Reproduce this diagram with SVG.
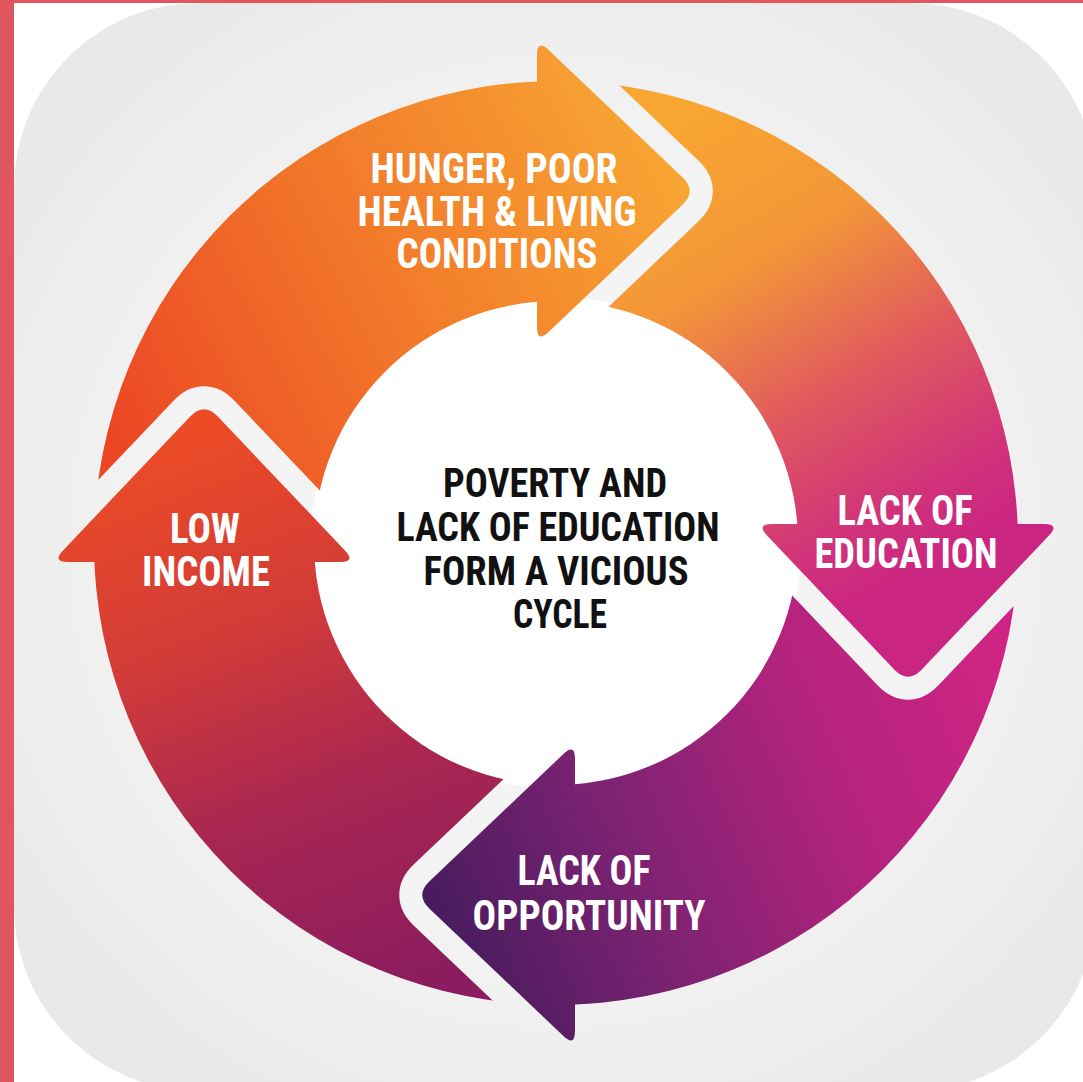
<svg xmlns="http://www.w3.org/2000/svg" xmlns:xlink="http://www.w3.org/1999/xlink" width="1083" height="1082" viewBox="0 0 1083 1082">
<style>
.lbl{font-family:"Roboto Condensed","Liberation Sans Narrow","Roboto","Liberation Sans",sans-serif;font-weight:bold;text-anchor:middle;fill:#ffffff;font-size:42px}
.ctr{font-family:"Roboto Condensed","Liberation Sans Narrow","Roboto","Liberation Sans",sans-serif;font-weight:bold;text-anchor:middle;fill:#111111;font-size:41px}
.ring{fill-rule:evenodd}
.cut{fill:#000;stroke:#000;stroke-width:46;stroke-linejoin:round}
</style>
<defs>
<radialGradient id="bg" cx="556" cy="543" r="640" gradientUnits="userSpaceOnUse">
<stop offset="0.6" stop-color="#f4f4f4"/>
<stop offset="1" stop-color="#e9e9e9"/>
</radialGradient>
<linearGradient id="gTop" gradientUnits="userSpaceOnUse" x1="120" y1="470" x2="700" y2="170">
<stop offset="0" stop-color="#eb4524"/>
<stop offset="0.5" stop-color="#f27a2a"/>
<stop offset="1" stop-color="#f8a834"/>
</linearGradient>
<linearGradient id="gRight" gradientUnits="userSpaceOnUse" x1="690" y1="120" x2="950" y2="560">
<stop offset="0" stop-color="#f8a532"/>
<stop offset="0.3" stop-color="#f39638"/>
<stop offset="0.6" stop-color="#e0585f"/>
<stop offset="0.85" stop-color="#d0337a"/>
<stop offset="1" stop-color="#cb2582"/>
</linearGradient>
<linearGradient id="gBottom" gradientUnits="userSpaceOnUse" x1="1000" y1="650" x2="420" y2="900">
<stop offset="0" stop-color="#d02484"/>
<stop offset="0.35" stop-color="#b0237c"/>
<stop offset="0.7" stop-color="#782270"/>
<stop offset="1" stop-color="#461b5d"/>
</linearGradient>
<linearGradient id="gLeft" gradientUnits="userSpaceOnUse" x1="420" y1="990" x2="200" y2="410">
<stop offset="0" stop-color="#8a1c5f"/>
<stop offset="0.35" stop-color="#a92651"/>
<stop offset="0.65" stop-color="#d23c38"/>
<stop offset="1" stop-color="#ee4c24"/>
</linearGradient>
<path id="annulus" d="M94 543A462 462 0 1 0 1018 543A462 462 0 1 0 94 543ZM314 543A242 242 0 1 0 798 543A242 242 0 1 0 314 543Z"/>
<path id="hTop" d="M548.6 50.02L682.5 177.22Q697 191 682.5 204.78L548.6 331.98Q537 343 537 327L537 55Q537 39 548.6 50.02Z"/>
<path id="hRight" d="M1048.98 535.6L921.78 669.5Q908 684 894.22 669.5L767.02 535.6Q756 524 772 524L1044 524Q1060 524 1048.98 535.6Z"/>
<path id="hBottom" d="M563.4 1035.98L429.5 908.78Q415 895 429.5 881.22L563.4 754.02Q575 743 575 759L575 1031Q575 1047 563.4 1035.98Z"/>
<path id="hLeft" d="M63.02 550.4L190.22 416.5Q204 402 217.78 416.5L344.98 550.4Q356 562 340 562L68 562Q52 562 63.02 550.4Z"/>
<clipPath id="cTop"><rect x="0" y="0" width="537" height="562"/></clipPath>
<clipPath id="cRight"><rect x="537" y="0" width="546" height="524"/></clipPath>
<clipPath id="cBottom"><rect x="575" y="524" width="508" height="558"/></clipPath>
<clipPath id="cLeft"><rect x="0" y="562" width="575" height="520"/></clipPath>
<mask id="mTop" maskUnits="userSpaceOnUse" x="0" y="0" width="1083" height="1082"><rect width="1083" height="1082" fill="#fff"/><use xlink:href="#hLeft" class="cut"/></mask>
<mask id="mRight" maskUnits="userSpaceOnUse" x="0" y="0" width="1083" height="1082"><rect width="1083" height="1082" fill="#fff"/><use xlink:href="#hTop" class="cut"/></mask>
<mask id="mBottom" maskUnits="userSpaceOnUse" x="0" y="0" width="1083" height="1082"><rect width="1083" height="1082" fill="#fff"/><use xlink:href="#hRight" class="cut"/></mask>
<mask id="mLeft" maskUnits="userSpaceOnUse" x="0" y="0" width="1083" height="1082"><rect width="1083" height="1082" fill="#fff"/><use xlink:href="#hBottom" class="cut"/></mask>
</defs>
<rect x="0" y="0" width="1083" height="1082" fill="#ffffff"/>
<rect x="14" y="3" width="1082" height="1088" rx="185" ry="185" fill="url(#bg)"/>
<rect x="0" y="0" width="1083" height="3" fill="#e0565f"/>
<rect x="0" y="0" width="14" height="1082" fill="#e0565f"/>
<circle cx="556" cy="543" r="246" fill="#ffffff"/>
<g id="connectors">
<g id="arrow-top">
<g clip-path="url(#cTop)"><g mask="url(#mTop)"><use xlink:href="#annulus" class="ring" fill="url(#gTop)"/></g></g>
<use xlink:href="#hTop" fill="url(#gTop)"/>
</g>
<g id="arrow-right">
<g clip-path="url(#cRight)"><g mask="url(#mRight)"><use xlink:href="#annulus" class="ring" fill="url(#gRight)"/></g></g>
<use xlink:href="#hRight" fill="url(#gRight)"/>
</g>
<g id="arrow-bottom">
<g clip-path="url(#cBottom)"><g mask="url(#mBottom)"><use xlink:href="#annulus" class="ring" fill="url(#gBottom)"/></g></g>
<use xlink:href="#hBottom" fill="url(#gBottom)"/>
</g>
<g id="arrow-left">
<g clip-path="url(#cLeft)"><g mask="url(#mLeft)"><use xlink:href="#annulus" class="ring" fill="url(#gLeft)"/></g></g>
<use xlink:href="#hLeft" fill="url(#gLeft)"/>
</g>
</g>
<g id="node-hunger">
<text class="lbl" x="494" y="183" textLength="247" lengthAdjust="spacingAndGlyphs">HUNGER, POOR</text>
<text class="lbl" x="497" y="226" textLength="279" lengthAdjust="spacingAndGlyphs">HEALTH &amp; LIVING</text>
<text class="lbl" x="497" y="268" textLength="201" lengthAdjust="spacingAndGlyphs">CONDITIONS</text>
</g>
<g id="node-education">
<text class="lbl" x="905" y="525" textLength="135" lengthAdjust="spacingAndGlyphs">LACK OF</text>
<text class="lbl" x="906" y="568" textLength="183" lengthAdjust="spacingAndGlyphs">EDUCATION</text>
</g>
<g id="node-opportunity">
<text class="lbl" x="584" y="885" textLength="133" lengthAdjust="spacingAndGlyphs">LACK OF</text>
<text class="lbl" x="589" y="930" textLength="233" lengthAdjust="spacingAndGlyphs">OPPORTUNITY</text>
</g>
<g id="node-income">
<text class="lbl" x="205" y="543" textLength="70" lengthAdjust="spacingAndGlyphs">LOW</text>
<text class="lbl" x="206" y="586" textLength="128" lengthAdjust="spacingAndGlyphs">INCOME</text>
</g>
<g id="node-center">
<text class="ctr" x="555" y="497" textLength="224" lengthAdjust="spacingAndGlyphs">POVERTY AND</text>
<text class="ctr" x="558" y="541" textLength="323" lengthAdjust="spacingAndGlyphs">LACK OF EDUCATION</text>
<text class="ctr" x="556" y="585" textLength="265" lengthAdjust="spacingAndGlyphs">FORM A VICIOUS</text>
<text class="ctr" x="560" y="628" textLength="94" lengthAdjust="spacingAndGlyphs">CYCLE</text>
</g>
</svg>
